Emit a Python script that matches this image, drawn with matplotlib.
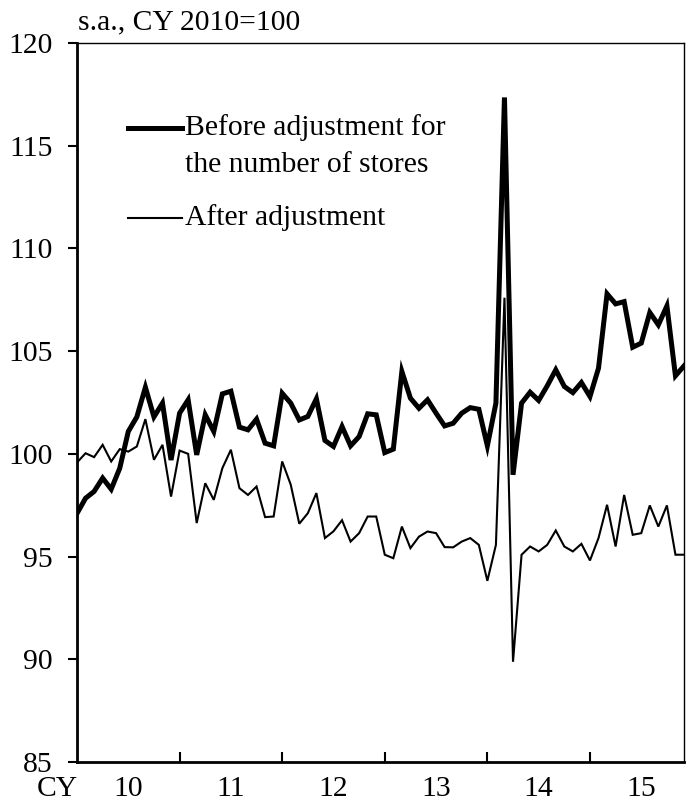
import matplotlib
matplotlib.use("Agg")
import matplotlib.pyplot as plt
import numpy as np

plt.rcParams['font.family'] = ['Liberation Serif', 'DejaVu Serif']

# Monthly, Jan 2010 - Dec 2015 (s.a., CY2010=100)
before_adj = [97.1, 97.84, 98.17, 98.82, 98.28, 99.3, 101.09, 101.8, 103.24, 101.8, 102.47, 99.7,
              101.98, 102.63, 99.95, 101.9, 101.09, 102.92, 103.05, 101.3, 101.17, 101.69, 100.52, 100.39,
              102.95, 102.47, 101.65, 101.82, 102.68, 100.65, 100.36, 101.33, 100.39, 100.84, 101.95, 101.9,
              100.06, 100.23, 104.01, 102.71, 102.22, 102.63, 101.98, 101.36, 101.49, 101.98, 102.25, 102.17,
              100.39, 102.47, 117.35, 98.98, 102.47, 103.0, 102.6, 103.31, 104.09, 103.28, 102.98, 103.47,
              102.79, 104.17, 107.79, 107.3, 107.41, 105.19, 105.39, 106.88, 106.28, 107.2, 103.8, 104.28]
after_adj = [99.58, 100.03, 99.84, 100.44, 99.63, 100.23, 100.11, 100.36, 101.69, 99.71, 100.44, 97.92,
             100.16, 100.0, 96.63, 98.57, 97.76, 99.3, 100.2, 98.33, 98.0, 98.41, 96.92, 96.95,
             99.63, 98.5, 96.6, 97.11, 98.09, 95.9, 96.23, 96.77, 95.73, 96.14, 96.95, 96.95,
             95.09, 94.92, 96.46, 95.41, 95.97, 96.22, 96.14, 95.46, 95.45, 95.73, 95.9, 95.57,
             93.82, 95.57, 107.6, 89.88, 95.09, 95.49, 95.25, 95.57, 96.27, 95.49, 95.25, 95.62,
             94.81, 95.9, 97.52, 95.49, 98.0, 96.06, 96.14, 97.49, 96.46, 97.49, 95.09, 95.09]
year_labels = ['10', '11', '12', '13', '14', '15']
y_ticks = [85, 90, 95, 100, 105, 110, 115, 120]

FS = 21.3
fig = plt.figure(figsize=(6.88, 8.07), dpi=100)
ax = fig.add_axes([77/688, 1-762/807, 607/688, 719/807])

x = np.arange(len(before_adj))
ax.plot(x, before_adj, color='black', lw=3.6, solid_joinstyle='miter')
ax.plot(x, after_adj, color='black', lw=1.5, solid_joinstyle='miter')

ax.set_xlim(0, len(before_adj) - 1)
ax.set_ylim(85, 120)

ax.set_yticks(y_ticks)
ax.set_yticklabels([str(v) for v in y_ticks], fontsize=FS)
ax.tick_params(axis='y', direction='out', length=6.5, width=1.5, pad=11)

ax.set_xticks([12, 24, 36, 48, 60])
ax.set_xticklabels([])
ax.tick_params(axis='x', which='major', direction='in', length=7, width=1.5)
ax.set_xticks([6 + 12 * k for k in range(len(year_labels))], minor=True)
ax.set_xticklabels(year_labels, minor=True, fontsize=FS)
ax.tick_params(axis='x', which='minor', length=0, pad=10)

for s in ['left', 'bottom']:
    ax.spines[s].set_linewidth(2.0)
for s in ['top', 'right']:
    ax.spines[s].set_linewidth(1.0)

# "CY" aligned with the year tick labels
ax.text(-4.2, 0, 'CY', fontsize=FS, ha='center', va='top',
        transform=ax.get_xaxis_transform(),
        bbox=None)
ax.texts[-1].set_position((-2.35, 0))
ax.texts[-1].set_transform(ax.get_xaxis_transform() +
                           matplotlib.transforms.ScaledTranslation(0, -(10 + 0) / 72, fig.dpi_scale_trans))
ax.texts[-1].set_clip_on(False)
fig.text(78/688, 1-22/807, 's.a., CY 2010=100', fontsize=FS, ha='left', va='center')

# legend
ax.plot([0.084, 0.173], [0.882, 0.882], transform=ax.transAxes, color='black', lw=3.6)
ax.plot([0.084, 0.173], [0.757, 0.757], transform=ax.transAxes, color='black', lw=1.5)
ax.text(0.178, 0.882, 'Before adjustment for', transform=ax.transAxes, fontsize=FS, va='center', ha='left')
ax.text(0.178, 0.830, 'the number of stores', transform=ax.transAxes, fontsize=FS, va='center', ha='left')
ax.text(0.178, 0.757, 'After adjustment', transform=ax.transAxes, fontsize=FS, va='center', ha='left')

fig.savefig('out.png', dpi=100)
